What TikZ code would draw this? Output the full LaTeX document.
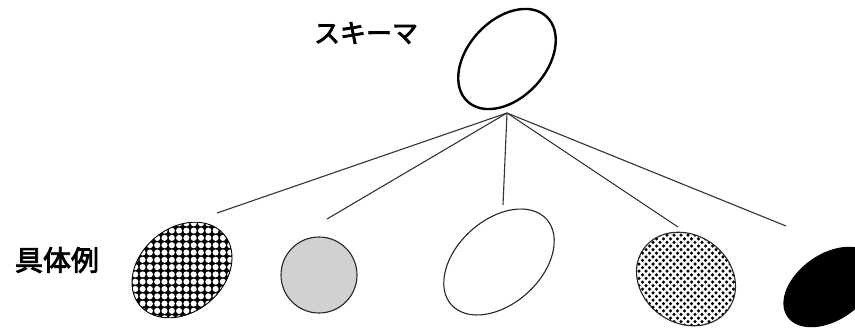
\documentclass[tikz,border=0pt]{standalone}
\usepackage{fontspec}
\newfontfamily\jp{Noto Sans CJK JP}[FakeBold=3]
\begin{document}
\begin{tikzpicture}[x=1pt,y=-1pt,
  lbl/.style={font=\jp\fontsize{26}{26}\selectfont, inner sep=0pt},
  conn/.style={line width=1.1pt, draw=black!80},
  outl/.style={line width=1.1pt, draw=black!85}]
\useasboundingbox (0,0) rectangle (855,330);

% labels
\node[lbl] (schema) at (366,33) {スキーマ};
\node[lbl, font=\jp\fontsize{28}{28}\selectfont] (inst) at (57,260) {具体例};

% top schema ellipse
\draw[line width=2.4pt, rotate around={47:(507,59)}] (507,59) ellipse [x radius=58pt, y radius=39pt];

% connectors
\coordinate (apex) at (507,113);
\coordinate (e1) at (217,213);
\coordinate (e2) at (327,219);
\coordinate (e3) at (503,205);
\coordinate (e4) at (678,227);
\coordinate (e5) at (786,226);
\foreach \e in {e1,e2,e3,e4,e5} \draw[conn] (apex) -- (\e);

% 1: checker ellipse
\begin{scope}
  \clip[rotate around={40:(182,270)}] (182,270) ellipse [x radius=55pt, y radius=42pt];
  \fill[black] (120,210) rectangle (245,330);
  \foreach \i in {0,...,17} \foreach \j in {0,...,16}
    \fill[white] (128+\i*7.3, 216+\j*7.3) circle (3.05pt);
\end{scope}
\draw[line width=0.9pt, rotate around={40:(182,270)}] (182,270) ellipse [x radius=55pt, y radius=42pt];

% 2: gray circle
\draw[outl, fill=black!18] (319,275) circle (38pt);

% 3: white ellipse
\draw[outl, rotate around={42:(499,262)}] (499,262) ellipse [x radius=64pt, y radius=42pt];

% 4: dotted ellipse
\begin{scope}
  \clip[rotate around={-35:(686,279)}] (686,279) ellipse [x radius=52pt, y radius=44pt];
  \foreach \i in {0,...,15} \foreach \j in {0,...,27}
    \pgfmathsetmacro{\xx}{632+\i*7+mod(\j,2)*3.5}
    \fill[black] (\xx, 228+\j*3.6) circle (1.75pt);
\end{scope}
\draw[outl, rotate around={-35:(686,279)}] (686,279) ellipse [x radius=52pt, y radius=44pt];

% 5: black ellipse (cut at right edge)
\begin{scope}
  \clip (0,0) rectangle (855,330);
  \fill[black, rotate around={35:(830,287)}] (830,287) ellipse [x radius=52pt, y radius=33pt];
\end{scope}
\end{tikzpicture}
\end{document}
